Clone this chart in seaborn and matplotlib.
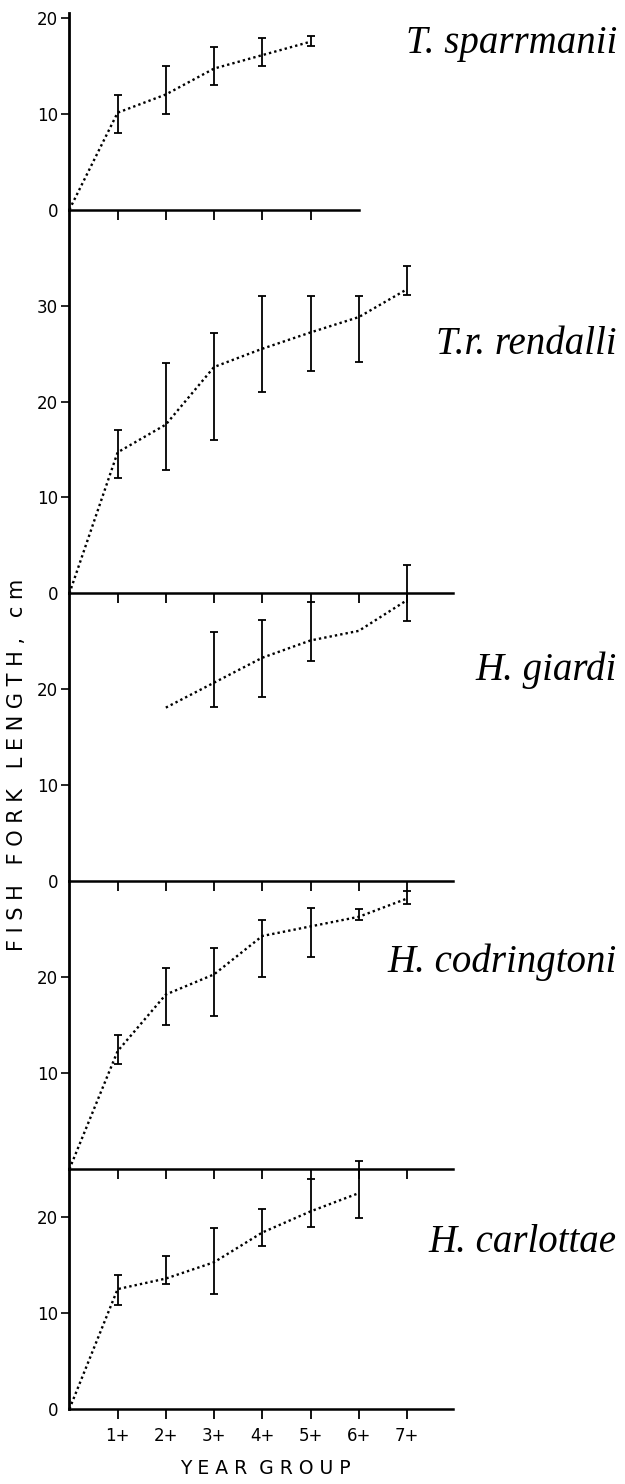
import numpy as np
import matplotlib
matplotlib.use("Agg")
import matplotlib.pyplot as plt
import seaborn as sns
import pandas as pd

# values (fish fork length, cm)
species = ["T. sparrmanii", "T.r. rendalli", "H. giardi", "H. codringtoni", "H. carlottae"]

sparr_years = [1, 2, 3, 4, 5]
sparr_mean = [10.1, 12.0, 14.7, 16.1, 17.5]
sparr_lo = [8.0, 10.0, 13.0, 15.0, 17.0]
sparr_hi = [11.9, 15.0, 16.9, 17.9, 18.1]

rend_years = [1, 2, 3, 4, 5, 6, 7]
rend_mean = [14.7, 17.6, 23.6, 25.5, 27.2, 28.8, 31.7]
rend_lo = [12.0, 12.9, 16.0, 21.0, 23.2, 24.1, 31.1]
rend_hi = [17.0, 24.0, 27.1, 31.0, 31.0, 31.0, 34.1]

giar_years = [2, 3, 4, 5, 6, 7]
giar_mean = [18.1, 20.7, 23.3, 25.1, 26.1, 29.3]
giar_lo = [np.nan, 18.2, 19.2, 23.0, np.nan, 27.1]
giar_hi = [np.nan, 26.0, 27.2, 29.1, np.nan, 33.0]

codr_years = [1, 2, 3, 4, 5, 6, 7]
codr_mean = [12.3, 18.2, 20.3, 24.3, 25.3, 26.3, 28.2]
codr_lo = [11.0, 15.0, 16.0, 20.0, 22.1, 26.0, 27.6]
codr_hi = [14.0, 21.0, 23.0, 26.0, 27.2, 27.1, 29.0]

carl_years = [1, 2, 3, 4, 5, 6]
carl_mean = [12.5, 13.6, 15.3, 18.4, 20.6, 22.5]
carl_lo = [10.8, 13.0, 12.0, 17.0, 19.0, 19.9]
carl_hi = [14.0, 16.0, 18.9, 20.9, 24.0, 25.8]

from_origin = [True, True, False, True, True]
panel_top = [20.5, 40, 30, 30, 25]
panel_yticks = [[0, 10, 20], [0, 10, 20, 30], [0, 10, 20], [10, 20], [0, 10, 20]]
year_labels = ["1+", "2+", "3+", "4+", "5+", "6+", "7+"]

series = [
    (sparr_years, sparr_mean, sparr_lo, sparr_hi),
    (rend_years, rend_mean, rend_lo, rend_hi),
    (giar_years, giar_mean, giar_lo, giar_hi),
    (codr_years, codr_mean, codr_lo, codr_hi),
    (carl_years, carl_mean, carl_lo, carl_hi),
]

sns.set_style("ticks")
plt.rcParams["font.family"] = ["DejaVu Sans"]
plt.rcParams.update({"axes.edgecolor": "black", "xtick.color": "black",
                     "ytick.color": "black", "text.color": "black"})

fig = plt.figure(figsize=(6.25, 14.84), dpi=100)
gs = fig.add_gridspec(5, 1, height_ratios=panel_top, hspace=0,
                      left=0.111, right=0.7245, top=0.9913, bottom=0.0505)

label_y = [44, 345, 670, 962, 1243]  # pixel rows of the species names

for i, (yrs, mean, lo, hi) in enumerate(series):
    ax = fig.add_subplot(gs[i])
    ax.patch.set_visible(False)  # so the panel below doesn't hide spines/ticks
    xs = list(yrs)
    ys = list(mean)
    if from_origin[i]:
        xs = [0] + xs
        ys = [0] + ys
    df = pd.DataFrame({"year": xs, "length": ys})
    sns.lineplot(data=df, x="year", y="length", ax=ax, color="black",
                 linestyle=(0, (1, 1.3)), linewidth=1.7, clip_on=False)

    e = pd.DataFrame({"year": yrs, "mean": mean, "lo": lo, "hi": hi}).dropna()
    ax.errorbar(e["year"], e["mean"], yerr=[e["mean"] - e["lo"], e["hi"] - e["mean"]],
                fmt="none", ecolor="black", elinewidth=1.3, capsize=3.2,
                capthick=1.3, clip_on=False)

    ax.set_xlim(0, 7.95)
    ax.set_ylim(0, panel_top[i])
    ax.set_yticks(panel_yticks[i])
    ax.set_yticklabels([str(t) for t in panel_yticks[i]], fontsize=12)
    for t, tk in zip(panel_yticks[i], ax.yaxis.get_major_ticks()):
        if t == 0:
            tk.tick1line.set_visible(False)
    ax.set_xlabel("")
    ax.set_ylabel("")
    ax.spines["top"].set_visible(False)
    ax.spines["right"].set_visible(False)
    ax.spines["left"].set_linewidth(2.0)
    ax.spines["bottom"].set_linewidth(1.8)
    ax.tick_params(axis="y", direction="out", length=6, width=1.2, pad=2)
    ax.tick_params(axis="x", direction="out", length=7, width=1.3)

    if i == 0:
        ax.spines["bottom"].set_bounds(0, 6.0)
        ax.set_xticks([1, 2, 3, 4, 5])
    else:
        ax.set_xticks(range(1, 8))

    if i == 4:
        ax.set_xticklabels(year_labels, fontsize=12)
        ax.tick_params(axis="x", pad=6)
    else:
        ax.tick_params(axis="x", labelbottom=False)

    fig.text(0.987, 1 - label_y[i] / 1484, species[i], ha="right", va="center",
             fontsize=28, style="italic", family="Liberation Serif")

fig.text(0.027, 1 - 765 / 1484, "F I S H   F O R K   L E N G T H ,   c m",
         rotation=90, ha="center", va="center", fontsize=15)
fig.text(265 / 625, 1 - 1468 / 1484, "Y E A R  G R O U P",
         ha="center", va="center", fontsize=13.5)

fig.savefig("out.png", dpi=100)
